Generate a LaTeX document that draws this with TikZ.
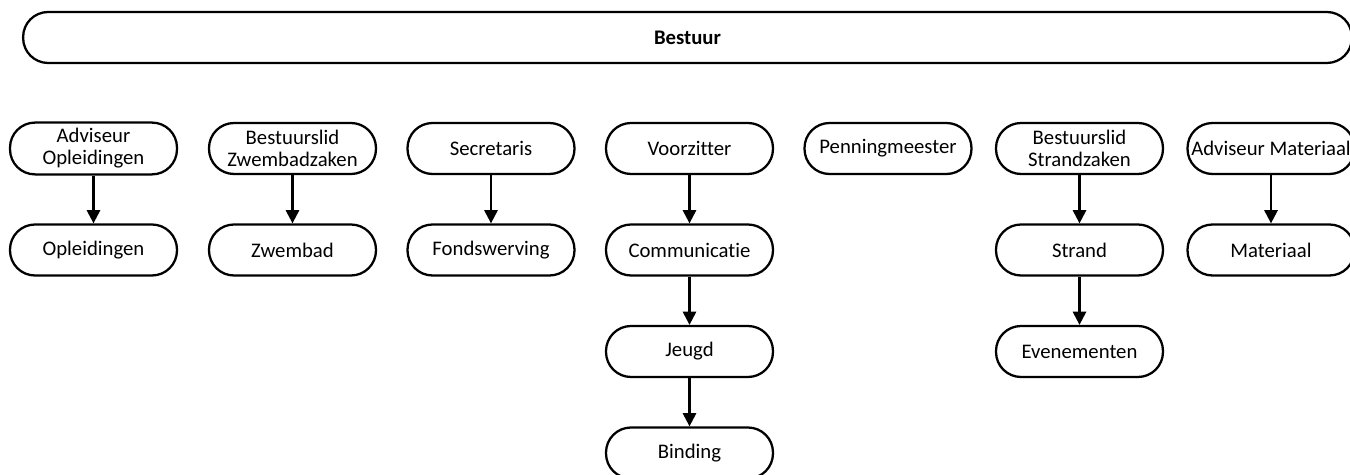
\documentclass[tikz,border=0pt]{standalone}
\usepackage{fontspec}
\setmainfont{Carlito}[Ligatures={NoCommon,NoRare,NoContextual}]
\usetikzlibrary{arrows.meta}

\begin{document}
\begin{tikzpicture}[x=0.02cm, y=-0.02cm,
  box/.style={draw, line width=1.3pt, rounded corners=0.5cm, minimum width=3.34cm,
    minimum height=1.02cm, inner xsep=0pt, align=center, font=\fontsize{11.8}{12.6}\selectfont},
  link/.style={line width=1.3pt, -{Triangle[length=7.5pt,width=7.5pt]}}]
  \useasboundingbox (0,0) rectangle (1350,475);
  % board across the top
  \node[box, minimum width=26.58cm, font=\fontsize{11.8}{12.6}\selectfont\bfseries] (bestuur) at (687.5,37.5) {Bestuur};
  % first row
  \node[box] (advopl) at (93.5,148.5) {Adviseur\\Opleidingen};
  \node[box] (bzwem) at (292.5,148.5) {Bestuurslid\\Zwembadzaken};
  \node[box] (secr) at (491,148.5) {Secretaris};
  \node[box] (voorz) at (689.5,148.5) {Voorzitter};
  \node[box] (penn) at (888,148.5) {Penningmeester};
  \node[box] (bstrand) at (1079.5,148.5) {Bestuurslid\\Strandzaken};
  \node[box] (advmat) at (1271,148.5) {Adviseur Materiaal};
  % second row
  \node[box] (opl) at (93.5,250) {Opleidingen};
  \node[box] (zwembad) at (292.5,250) {Zwembad};
  \node[box] (fonds) at (491,250) {Fondswerving};
  \node[box] (comm) at (689.5,250) {Communicatie};
  \node[box] (strand) at (1079.5,250) {Strand};
  \node[box] (mat) at (1271,250) {Materiaal};
  % lower rows
  \node[box] (jeugd) at (689.5,351.5) {Jeugd};
  \node[box] (even) at (1079.5,351.5) {Evenementen};
  \node[box] (binding) at (689.5,453) {Binding};
  % arrows
  \draw[link] (advopl) -- (opl);
  \draw[link] (bzwem) -- (zwembad);
  \draw[link] (secr) -- (fonds);
  \draw[link] (voorz) -- (comm);
  \draw[link] (comm) -- (jeugd);
  \draw[link] (jeugd) -- (binding);
  \draw[link] (bstrand) -- (strand);
  \draw[link] (strand) -- (even);
  \draw[link] (advmat) -- (mat);
\end{tikzpicture}
\end{document}
